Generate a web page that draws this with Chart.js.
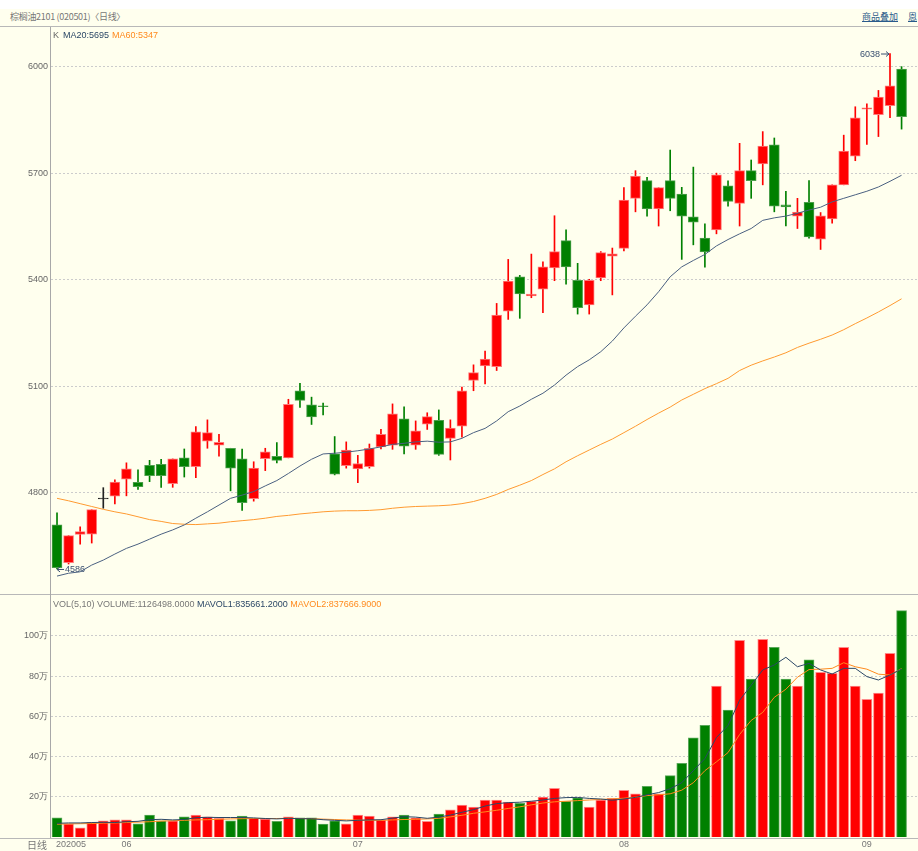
<!DOCTYPE html>
<html>
<head>
<meta charset="utf-8">
<script src="https://cdn.jsdelivr.net/npm/chart.js@4.4.0/dist/chart.umd.min.js"></script>
<style>
    body { margin: 0; background: #fff; }
    #wrap { position: relative; width: 918px; height: 851px; background: #ffffee; overflow: hidden; font-family: "Liberation Sans", Arial, sans-serif; }
    #topStrip { position: absolute; left: 0; top: 0; width: 918px; height: 9px; background: #fff; }
    .title { position: absolute; left: 10px; top: 10px; font-size: 9px; line-height: 13px; color: #777; font-family: "Noto Sans CJK SC", sans-serif; white-space: nowrap; letter-spacing: -0.3px; }
    .link { position: absolute; top: 10px; font-size: 9px; line-height: 13px; color: #2a5a8a; text-decoration: underline; font-family: "Noto Sans CJK SC", sans-serif; white-space: nowrap; }
    .hline { position: absolute; left: 0; width: 918px; height: 1px; background: #b8b8b8; }
    .vline { position: absolute; left: 50px; width: 1px; background: #a8a8a8; }
    .box { position: absolute; left: 0; width: 918px; }
</style>
</head>
<body>
<div id="wrap">
    <div id="topStrip"></div>
    <div class="title">棕榈油2101 (020501)〈日线〉</div>
    <div class="link" style="left:862px">商品叠加</div>
    <div class="link" style="left:908px">恩</div>
    <div class="box" style="top:28px;height:566px"><canvas id="price-chart"></canvas></div>
    <div class="box" style="top:594px;height:257px"><canvas id="volume-chart"></canvas></div>
    <div class="hline" style="top:26px"></div>
    <div class="hline" style="top:594px"></div>
    <div class="hline" style="top:838px"></div>
    <div class="vline" style="top:27px;height:811px"></div>
</div>
<script>
// Daily candles, May 22 - Sep 4 2020
const openP = [4710, 4604, 4683, 4684, 4783, 4791, 4839, 4830, 4878, 4881,
    4826, 4899, 4874, 4946, 4935, 4926, 4896, 4784, 4897, 4903,
    4899, 5088, 5048, 5045, 4910, 4877, 4868, 4874, 4930, 4935,
    5009, 4935, 4994, 5005, 4954, 4988, 5117, 5158, 5156, 5312,
    5409, 5355, 5374, 5434, 5511, 5399, 5330, 5406, 5467, 5489,
    5630, 5680, 5600, 5680, 5642, 5578, 5518, 5541, 5665, 5616,
    5708, 5727, 5781, 5612, 5580, 5619, 5515, 5572, 5668, 5749,
    5881, 5866, 5891, 5994];
const highP = [4744, 4680, 4705, 4753, 4815, 4837, 4885, 4865, 4892, 4895,
    4896, 4924, 4987, 5006, 4965, 4926, 4924, 4888, 4926, 4942,
    5064, 5109, 5070, 5053, 4959, 4944, 4906, 4938, 4979, 5051,
    5043, 5003, 5026, 5034, 5006, 5098, 5161, 5200, 5334, 5458,
    5413, 5473, 5451, 5581, 5541, 5447, 5402, 5480, 5490, 5660,
    5708, 5689, 5660, 5766, 5661, 5718, 5558, 5701, 5679, 5785,
    5738, 5818, 5800, 5650, 5630, 5680, 5590, 5668, 5808, 5888,
    5896, 5934, 6038, 6001];
const lowP = [4586, 4600, 4656, 4659, 4757, 4769, 4792, 4810, 4832, 4816,
    4816, 4845, 4843, 4926, 4904, 4806, 4751, 4777, 4863, 4885,
    4899, 5041, 4993, 5020, 4851, 4870, 4829, 4870, 4924, 4923,
    4910, 4923, 4979, 4906, 4893, 4957, 5088, 5107, 5145, 5289,
    5292, 5350, 5308, 5398, 5388, 5304, 5304, 5398, 5358, 5482,
    5592, 5580, 5552, 5595, 5458, 5499, 5436, 5530, 5608, 5552,
    5630, 5668, 5592, 5552, 5545, 5518, 5486, 5560, 5668, 5736,
    5782, 5804, 5857, 5825];
const closeP = [4590, 4680, 4691, 4753, 4783, 4831, 4868, 4818, 4849, 4849,
    4896, 4874, 4972, 4970, 4943, 4870, 4773, 4870, 4916, 4892,
    5050, 5061, 5014, 5043, 4853, 4921, 4883, 4926, 4965, 5023,
    4932, 4975, 5015, 4909, 4983, 5088, 5139, 5177, 5301, 5397,
    5361, 5360, 5437, 5480, 5437, 5322, 5399, 5477, 5474, 5625,
    5693, 5600, 5660, 5630, 5580, 5563, 5479, 5696, 5621, 5708,
    5680, 5777, 5608, 5606, 5591, 5521, 5581, 5668, 5763, 5857,
    5885, 5915, 5947, 5860];
const ma20 = [4566, 4574, 4578, 4597, 4611, 4628, 4644, 4656, 4670, 4684,
    4696, 4710, 4729, 4747, 4766, 4785, 4794, 4804, 4820, 4835,
    4855, 4876, 4895, 4910, 4912, 4915, 4919, 4924, 4930, 4937,
    4940, 4944, 4946, 4943, 4944, 4954, 4970, 4982, 5003, 5029,
    5045, 5064, 5081, 5104, 5132, 5156, 5175, 5198, 5228, 5265,
    5298, 5330, 5367, 5409, 5437, 5455, 5472, 5496, 5514, 5530,
    5545, 5568, 5575, 5580, 5588, 5597, 5605, 5620, 5630, 5640,
    5650, 5662, 5678, 5695];
const ma60 = [4785, 4778, 4770, 4762, 4754, 4747, 4741, 4733, 4725, 4720,
    4714, 4712, 4711, 4713, 4715, 4719, 4722, 4725, 4729, 4734,
    4737, 4741, 4744, 4747, 4749, 4750, 4750, 4751, 4753, 4757,
    4760, 4762, 4763, 4764, 4766, 4770, 4776, 4785, 4796, 4810,
    4822, 4835, 4852, 4868, 4888, 4905, 4921, 4937, 4952, 4970,
    4988, 5007, 5025, 5042, 5062, 5078, 5094, 5108, 5123, 5145,
    5160, 5172, 5183, 5195, 5210, 5222, 5233, 5245, 5260, 5277,
    5293, 5310, 5328, 5347];

// Volume (lots)
const volume = [95000, 65000, 46000, 73000, 81000, 86000, 86000, 66000, 109000, 81000,
    81000, 100000, 109000, 100000, 93000, 81000, 104000, 93000, 89000, 78000,
    100000, 95000, 95000, 64000, 81000, 66000, 109000, 104000, 85000, 100000,
    109000, 95000, 78000, 114000, 135000, 159000, 149000, 184000, 184000, 174000,
    167000, 179000, 199000, 242000, 177000, 195000, 149000, 184000, 192000, 232000,
    215000, 252000, 215000, 305000, 367000, 493000, 556000, 751000, 632000, 979000,
    786000, 984000, 944000, 786000, 751000, 881000, 819000, 814000, 944000, 751000,
    685000, 716000, 914000, 1126498];
const mavol1 = [68000, 70000, 70000, 72000, 73000, 72000, 76000, 78000, 86000, 88000,
    85000, 87000, 96000, 98000, 97000, 97000, 97000, 95000, 92000, 90000,
    93000, 91000, 91000, 86000, 83000, 80000, 83000, 85000, 86000, 94000,
    101000, 99000, 93000, 99000, 109000, 123000, 136000, 154000, 166000, 171000,
    173000, 178000, 184000, 192000, 196000, 197000, 192000, 189000, 183000, 189000,
    197000, 210000, 221000, 240000, 270000, 330000, 390000, 495000, 555000, 680000,
    755000, 831000, 856000, 894000, 847000, 864000, 831000, 811000, 839000, 839000,
    798000, 781000, 806000, 835661.2];
const mavol2 = [64000, 65000, 66000, 67000, 69000, 70000, 72000, 74000, 76000, 79000,
    81000, 83000, 85000, 86000, 88000, 90000, 91000, 92000, 92000, 92000,
    93000, 92000, 91000, 89000, 87000, 85000, 84000, 83000, 83000, 85000,
    87000, 88000, 90000, 93000, 100000, 108000, 118000, 125000, 133000, 142000,
    150000, 160000, 169000, 175000, 178000, 181000, 184000, 187000, 190000, 193000,
    198000, 206000, 210000, 215000, 233000, 270000, 330000, 374000, 420000, 510000,
    580000, 620000, 695000, 735000, 795000, 833000, 835000, 839000, 867000, 847000,
    835000, 810000, 806000, 837666.9];

// Axis ticks
const priceTicks = [4800, 5100, 5400, 5700, 6000];
const volumeTicks = [200000, 400000, 600000, 800000, 1000000];
const monthTickIndex = [0, 6, 26, 49, 70];
const monthTickText = ['202005', '06', '07', '08', '09'];

const RED = '#ff0000';
const GREEN = '#008000';
const DOJI = '#222222';
const FONT = '9px "Liberation Sans", Arial, sans-serif';

function candleColor(i) {
    if (closeP[i] > openP[i]) return RED;
    if (closeP[i] < openP[i]) return GREEN;
    return DOJI;
}
function candleEdge(i) {
    if (closeP[i] > openP[i]) return '#ff7a7a';
    if (closeP[i] < openP[i]) return '#4c9f4c';
    return DOJI;
}
function volumeColor(i) { return closeP[i] < openP[i] ? GREEN : RED; }
function volumeEdge(i) { return closeP[i] < openP[i] ? '#5aa85a' : '#ff8a8a'; }

const idx = openP.map((_, i) => i);
const xRange = { type: 'linear', min: -0.52, max: 74.42, offset: false, display: false };

// Draws legend and extreme markers on price chart
const priceLabels = {
    id: 'priceLabels',
    afterDatasetsDraw(chart) {
        const { ctx, scales: { x, y } } = chart;
        ctx.save();
        ctx.font = FONT;
        ctx.textBaseline = 'middle';
        ctx.fillStyle = '#666';
        ctx.fillText('K', 53, 8);
        const t1 = 'MA20:' + ma20[ma20.length - 1];
        ctx.fillStyle = '#2b4766';
        ctx.fillText(t1, 63, 8);
        ctx.fillStyle = '#ff8a1e';
        ctx.fillText('MA60:' + ma60[ma60.length - 1], 63 + ctx.measureText(t1).width + 3, 8);

        // lowest low
        const lo = Math.min(...lowP);
        const iLo = lowP.indexOf(lo);
        const xl = x.getPixelForValue(iLo), yl = y.getPixelForValue(lo);
        ctx.strokeStyle = '#3a5070';
        ctx.fillStyle = '#3a5070';
        ctx.lineWidth = 1;
        ctx.beginPath();
        ctx.moveTo(xl, yl + 0.5); ctx.lineTo(xl + 7, yl + 0.5);
        ctx.moveTo(xl, yl + 0.5); ctx.lineTo(xl + 3, yl - 2);
        ctx.moveTo(xl, yl + 0.5); ctx.lineTo(xl + 3, yl + 3);
        ctx.stroke();
        ctx.fillText(String(lo), xl + 8, yl + 1);

        // highest high
        const hi = Math.max(...highP);
        const iHi = highP.indexOf(hi);
        const xh = x.getPixelForValue(iHi), yh = y.getPixelForValue(hi);
        ctx.beginPath();
        ctx.moveTo(xh - 9, yh + 0.5); ctx.lineTo(xh - 1, yh + 0.5);
        ctx.moveTo(xh - 1, yh + 0.5); ctx.lineTo(xh - 4, yh - 2);
        ctx.moveTo(xh - 1, yh + 0.5); ctx.lineTo(xh - 4, yh + 3);
        ctx.stroke();
        ctx.textAlign = 'right';
        ctx.fillText(String(hi), xh - 10, yh + 1);
        ctx.restore();
    }
};

// Legend and month labels on volume chart
const volumeLabels = {
    id: 'volumeLabels',
    afterDatasetsDraw(chart) {
        const { ctx, scales: { x } } = chart;
        ctx.save();
        ctx.font = FONT;
        ctx.textBaseline = 'middle';
        let px = 53;
        const parts = [
            ['VOL(5,10) VOLUME:' + volume[volume.length - 1].toFixed(4) + ' ', '#777'],
            ['MAVOL1:' + mavol1[mavol1.length - 1].toFixed(4) + ' ', '#2b4766'],
            ['MAVOL2:' + mavol2[mavol2.length - 1].toFixed(4), '#ff8a1e']
        ];
        parts.forEach(([t, c]) => {
            ctx.fillStyle = c;
            ctx.fillText(t, px, 11);
            px += ctx.measureText(t).width;
        });

        ctx.fillStyle = '#777';
        monthTickIndex.forEach((m, k) => {
            const xp = x.getPixelForValue(m);
            ctx.textAlign = k === 0 ? 'left' : 'center';
            ctx.fillText(monthTickText[k], k === 0 ? xp - 1 : xp, 251);
        });
        ctx.textAlign = 'right';
        ctx.font = '10px "Noto Sans CJK SC", sans-serif';
        ctx.fillText('日线', 47, 251);
        ctx.restore();
    }
};

function yAxis(min, max, ticks, fmt) {
    return {
        min: min,
        max: max,
        afterBuildTicks: s => { s.ticks = ticks.map(v => ({ value: v })); },
        afterFit: s => { s.width = 51; s.paddingTop = 0; s.paddingBottom = 0; },
        ticks: { color: '#666', font: { family: '"Liberation Sans", Arial, sans-serif', size: 9 }, padding: 3, callback: fmt },
        grid: { color: '#cccccc', drawTicks: false },
        border: { display: false, dash: [2, 2] }
    };
}

const commonOptions = {
    responsive: true,
    maintainAspectRatio: false,
    animation: false,
    plugins: { legend: { display: false }, tooltip: { enabled: false } },
    datasets: { bar: { grouped: false } }
};

new Chart(document.getElementById('price-chart'), {
    type: 'bar',
    data: {
        datasets: [
            {
                type: 'line',
                data: idx.map(i => ({ x: i, y: ma20[i] })),
                borderColor: '#4a6080',
                borderWidth: 1,
                pointRadius: 0,
                order: 1
            },
            {
                type: 'line',
                data: idx.map(i => ({ x: i, y: ma60[i] })),
                borderColor: '#ff9a30',
                borderWidth: 1,
                pointRadius: 0,
                order: 1
            },
            {
                data: idx.map(i => ({ x: i, y: [openP[i], closeP[i]] })),
                backgroundColor: idx.map(candleColor),
                borderColor: idx.map(candleEdge),
                borderWidth: 1,
                borderSkipped: false,
                barThickness: 10,
                minBarLength: 1,
                order: 2
            },
            {
                data: idx.map(i => ({ x: i, y: [lowP[i], highP[i]] })),
                backgroundColor: idx.map(candleColor),
                barThickness: 1,
                order: 3
            }
        ]
    },
    options: {
        ...commonOptions,
        layout: { padding: { top: 2, bottom: 1, left: 0, right: 0 } },
        scales: {
            x: xRange,
            y: yAxis(4518.3, 6104.2, priceTicks, v => v)
        }
    },
    plugins: [priceLabels]
});

new Chart(document.getElementById('volume-chart'), {
    type: 'bar',
    data: {
        datasets: [
            {
                type: 'line',
                data: idx.map(i => ({ x: i, y: mavol1[i] })),
                borderColor: '#2b4766',
                borderWidth: 1,
                pointRadius: 0,
                order: 1
            },
            {
                type: 'line',
                data: idx.map(i => ({ x: i, y: mavol2[i] })),
                borderColor: '#ff8a1e',
                borderWidth: 1,
                pointRadius: 0,
                order: 1
            },
            {
                data: idx.map(i => ({ x: i, y: volume[i] })),
                backgroundColor: idx.map(volumeColor),
                borderColor: idx.map(volumeEdge),
                borderWidth: 1,
                borderSkipped: 'start',
                barThickness: 10,
                order: 2
            }
        ]
    },
    options: {
        ...commonOptions,
        layout: { padding: { top: 3, bottom: 14, left: 0, right: 0 } },
        scales: {
            x: xRange,
            y: yAxis(0, 1194000, volumeTicks, v => (v / 10000) + '万')
        }
    },
    plugins: [volumeLabels]
});
</script>
</body>
</html>
